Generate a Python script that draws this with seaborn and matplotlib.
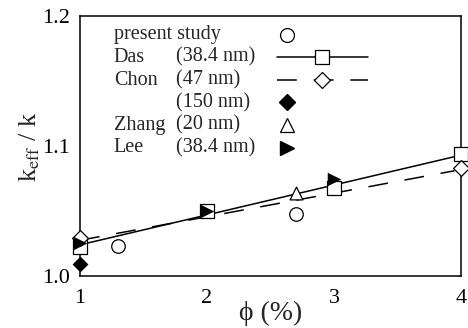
import matplotlib
matplotlib.use("Agg")
import matplotlib.pyplot as plt
from matplotlib.ticker import MultipleLocator, FormatStrFormatter
import seaborn as sns

# данные
present_x = [1.3, 2.7]
present_y = [1.023, 1.048]

das_x = [1, 2, 3, 4]
das_y = [1.0225, 1.050, 1.068, 1.094]
das_fit_x = [1, 4]
das_fit_y = [1.024, 1.093]

chon47_x = [1, 4]
chon47_y = [1.029, 1.083]
chon_fit_x = [1, 3.95]
chon_fit_y = [1.0275, 1.081]

chon150_x = [1]
chon150_y = [1.009]

zhang_x = [2.7]
zhang_y = [1.064]

lee_x = [1, 2, 3]
lee_y = [1.0256, 1.050, 1.075]

legend_names = ["present study", "Das", "Chon", "", "Zhang", "Lee"]
legend_sizes = ["", "(38.4 nm)", "(47 nm)", "(150 nm)", "(20 nm)", "(38.4 nm)"]

sns.set_theme(style="white")
plt.rcParams["font.family"] = ["Liberation Serif", "DejaVu Serif"]
plt.rcParams["mathtext.fontset"] = "stix"

fig = plt.figure(figsize=(4.68, 3.28), dpi=100)
ax = fig.add_axes([0.171, 0.1585, 0.814, 0.7925])

DASH = (0, (13, 11))
opn = dict(facecolor="white", edgecolor="black", linewidth=0.9, zorder=3, clip_on=False)
full = dict(color="black", linewidth=0, zorder=4, clip_on=False)

sns.lineplot(x=das_fit_x, y=das_fit_y, color="black", lw=1.1, ax=ax)
sns.lineplot(x=chon_fit_x, y=chon_fit_y, color="black", lw=1.1, linestyle=DASH, ax=ax)

sns.scatterplot(x=present_x, y=present_y, marker="o", s=95, ax=ax, **opn)
sns.scatterplot(x=das_x, y=das_y, marker="s", s=110, ax=ax, **opn)
sns.scatterplot(x=chon47_x, y=chon47_y, marker="D", s=65, ax=ax, **opn)
sns.scatterplot(x=chon150_x, y=chon150_y, marker="D", s=65, ax=ax, **full)
sns.scatterplot(x=zhang_x, y=zhang_y, marker="^", s=85, ax=ax, **opn)
sns.scatterplot(x=lee_x, y=lee_y, marker=">", s=95, ax=ax, **full)

ax.set_xlim(1, 4)
ax.set_ylim(1.0, 1.2)
ax.xaxis.set_major_locator(MultipleLocator(1))
ax.xaxis.set_minor_locator(MultipleLocator(0.5))
ax.yaxis.set_major_locator(MultipleLocator(0.1))
ax.yaxis.set_minor_locator(MultipleLocator(0.05))
ax.yaxis.set_major_formatter(FormatStrFormatter("%.1f"))
ax.tick_params(which="major", direction="in", length=12, width=1.0, labelsize=16,
               top=False, right=False, colors="black")
ax.tick_params(which="minor", direction="in", length=6.5, width=1.0, top=False, right=False)
ax.tick_params(axis="x", pad=9)
ax.tick_params(axis="y", pad=7)
for sp in ax.spines.values():
    sp.set_visible(True)
    sp.set_color("black")
    sp.set_linewidth(1.1)

ax.set_xlabel("ϕ (%)", fontsize=20, labelpad=-5)
ax.set_ylabel(r"k$_{\mathrm{eff}}$ / k", fontsize=19, labelpad=0)

# самодельная легенда в координатах осей
row_y = [0.928, 0.842, 0.754, 0.668, 0.580, 0.493]
for i, (nm, sz) in enumerate(zip(legend_names, legend_sizes)):
    ax.text(0.089, row_y[i], nm, transform=ax.transAxes, fontsize=14.5, va="center")
    ax.text(0.252, row_y[i], sz, transform=ax.transAxes, fontsize=14.5, va="center")
mx = 0.543
lx = 0.635
ax.plot([mx], [row_y[0]], "o", mfc="white", mec="black", ms=10, mew=0.9, transform=ax.transAxes)
ax.plot([0.518, 0.757], [row_y[1]] * 2, "-", color="black", lw=1.1, transform=ax.transAxes)
ax.plot([lx], [row_y[1]], "s", mfc="white", mec="black", ms=10.5, mew=0.9, transform=ax.transAxes)
ax.plot([0.518, 0.757], [row_y[2]] * 2, color="black", lw=1.1, linestyle=DASH, transform=ax.transAxes)
ax.plot([lx], [row_y[2]], "D", mfc="white", mec="black", ms=8, mew=0.9, transform=ax.transAxes)
ax.plot([mx], [row_y[3]], "D", color="black", ms=8, transform=ax.transAxes)
ax.plot([mx], [row_y[4]], "^", mfc="white", mec="black", ms=9.5, mew=0.9, transform=ax.transAxes)
ax.plot([mx], [row_y[5]], ">", color="black", ms=10, transform=ax.transAxes)

plt.savefig("out.png", dpi=100)
plt.close()
